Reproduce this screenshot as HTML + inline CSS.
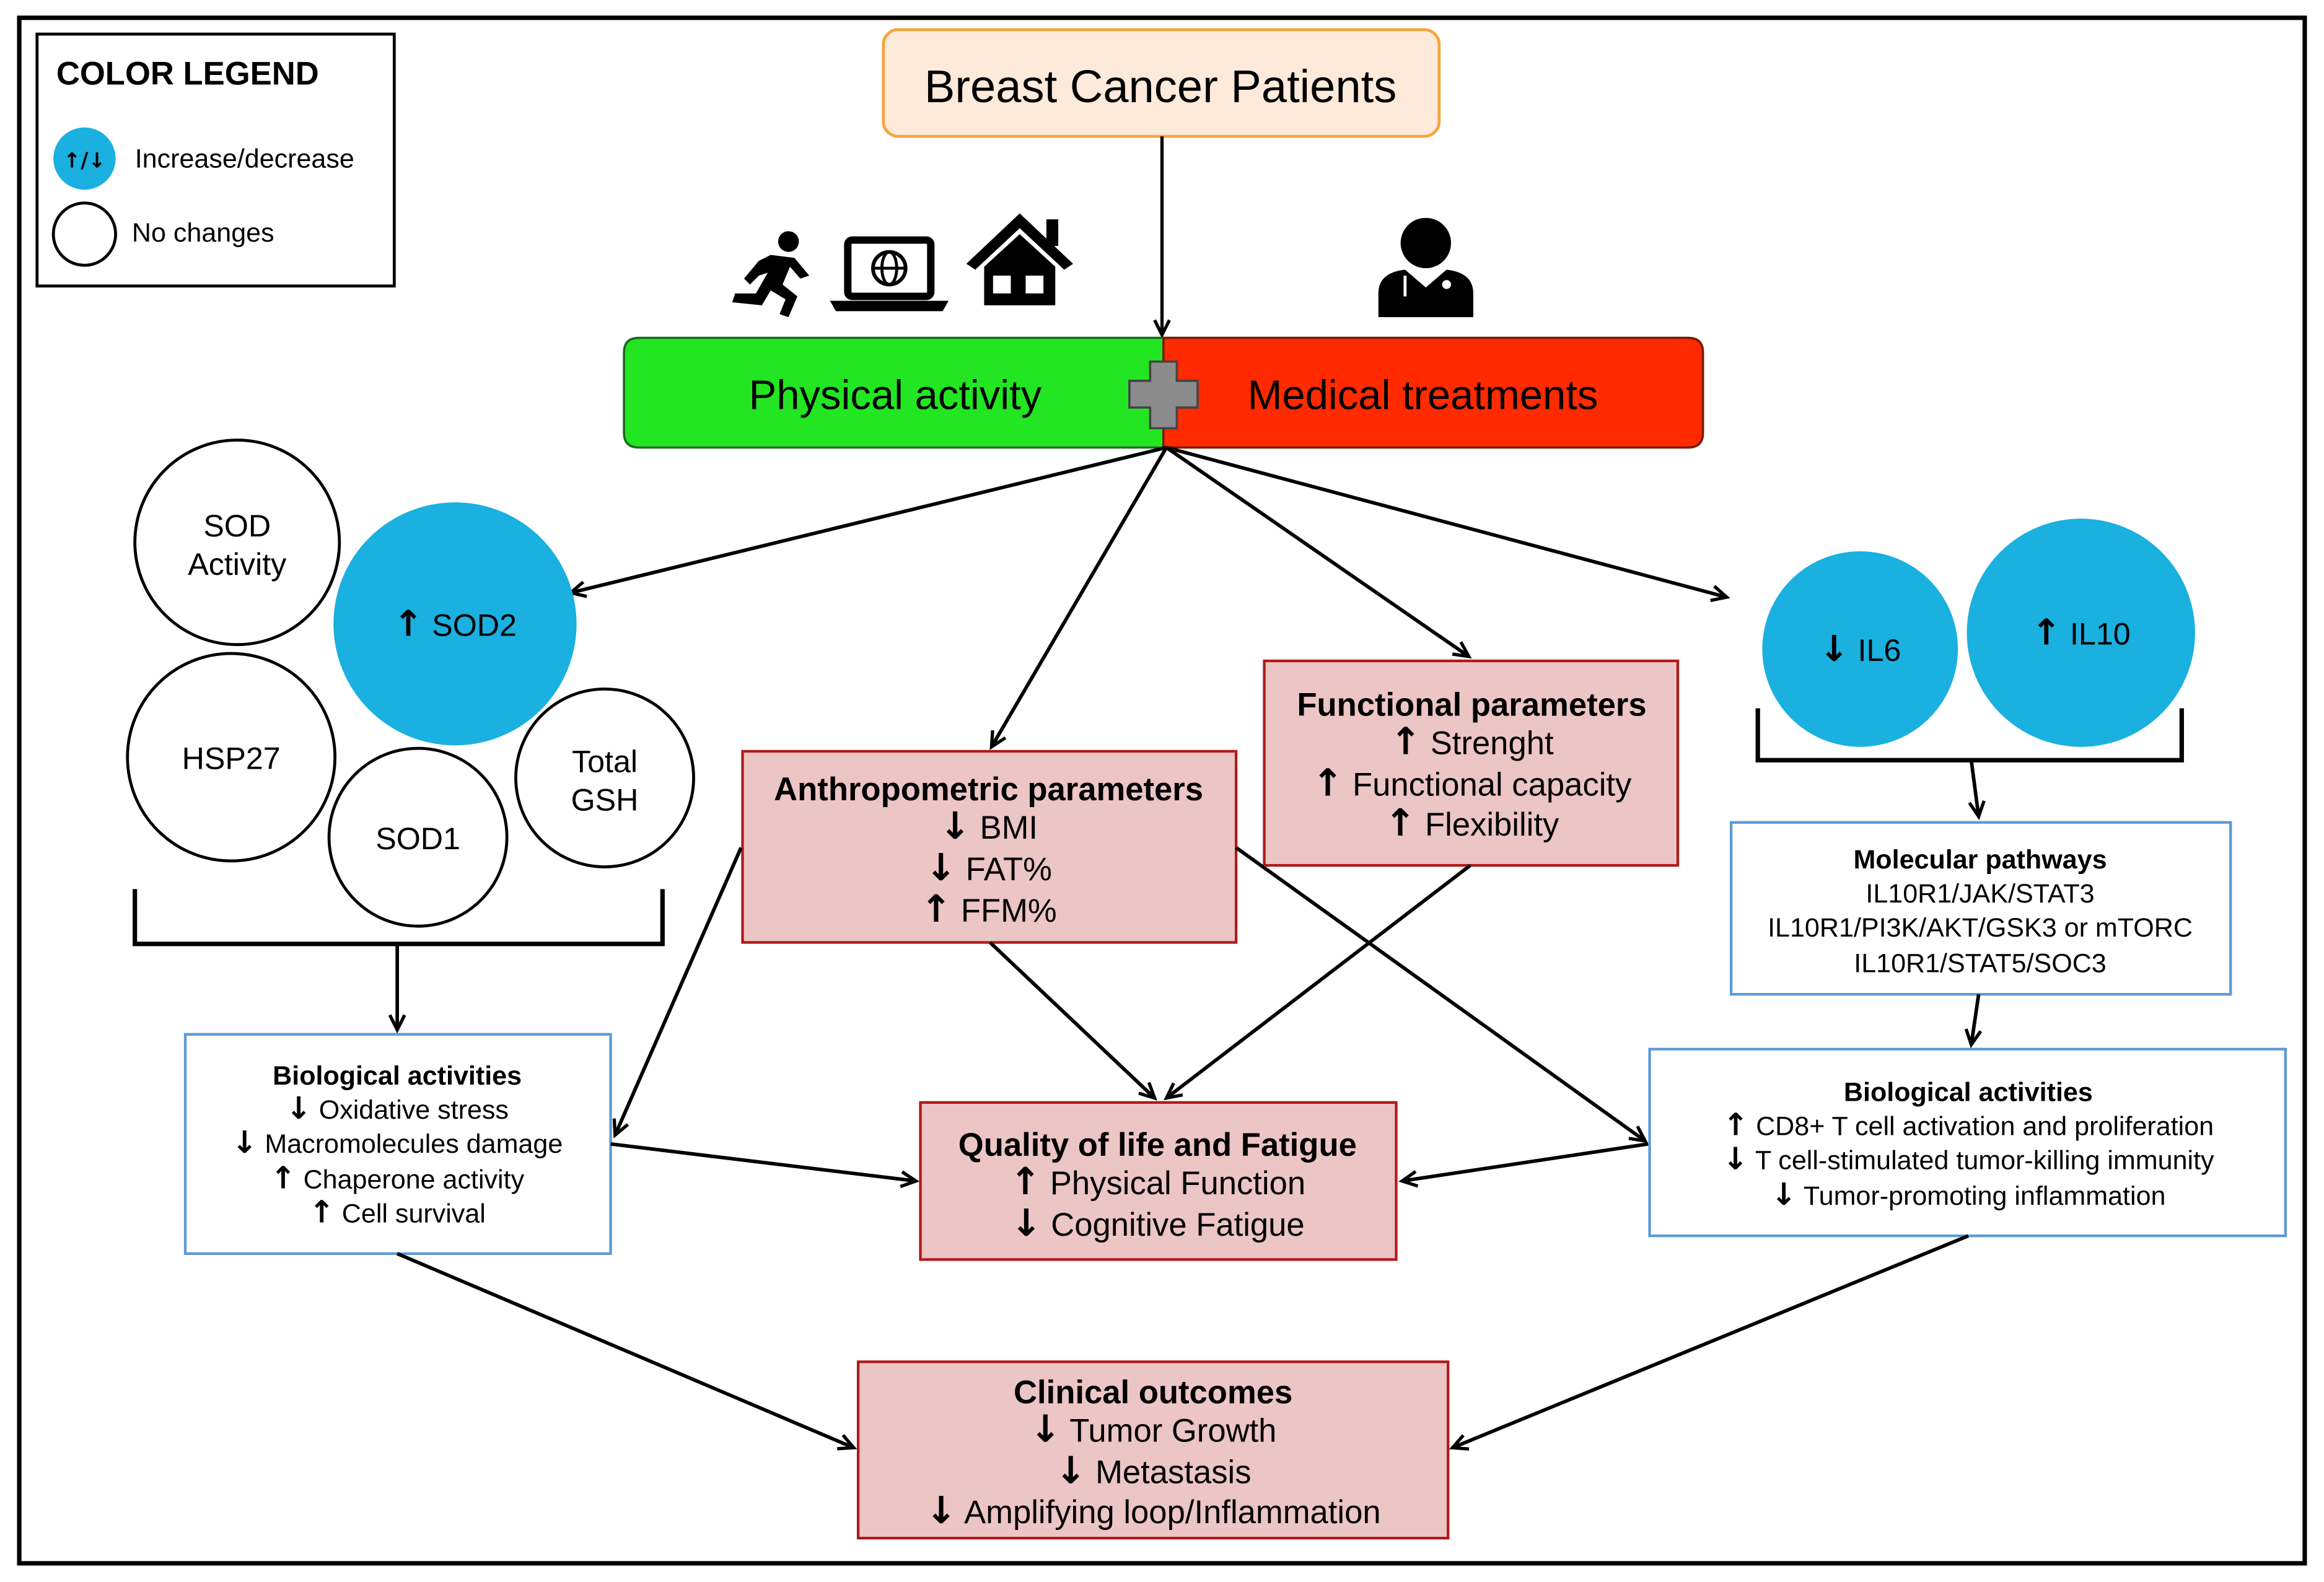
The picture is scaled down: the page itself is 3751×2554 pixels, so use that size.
<!DOCTYPE html>
<html><head><meta charset="utf-8"><style>
html,body{margin:0;padding:0;background:#fff}
svg{display:block}
text{font-family:"Liberation Sans","DejaVu Sans",sans-serif;fill:#000}
.ar{font-family:"DejaVu Sans",sans-serif;font-weight:bold;font-size:1.15em}
</style></head><body>
<svg width="3751" height="2554" viewBox="0 0 1568 1067.6" xmlns="http://www.w3.org/2000/svg">
<defs>
<marker id="a" markerWidth="16" markerHeight="16" refX="11" refY="6" orient="auto" markerUnits="userSpaceOnUse">
<polyline points="1,1 11,6 1,11" fill="none" stroke="#000" stroke-width="2.2"/>
</marker>
</defs>
<rect x="0" y="0" width="1568" height="1068" fill="#fff"/>
<rect x="13" y="12" width="1542" height="1043" fill="none" stroke="#000" stroke-width="3"/>

<!-- legend -->
<rect x="25" y="23" width="241" height="170" fill="#fff" stroke="#000" stroke-width="2"/>
<text x="38" y="57" font-size="22" font-weight="bold">COLOR LEGEND</text>
<circle cx="57" cy="107" r="21" fill="#1ab0e0"/>
<text x="57" y="113" font-size="14" text-anchor="middle" font-weight="bold" style="font-family:'DejaVu Sans',sans-serif">↑/↓</text>
<text x="91" y="113" font-size="18">Increase/decrease</text>
<circle cx="57" cy="158" r="21" fill="#fff" stroke="#000" stroke-width="2"/>
<text x="89" y="163" font-size="18">No changes</text>

<!-- top box -->
<rect x="596" y="20" width="375" height="72" rx="10" fill="#fdeada" stroke="#f4a640" stroke-width="2"/>
<text x="783" y="69" font-size="31" text-anchor="middle">Breast Cancer Patients</text>
<line x1="784" y1="92" x2="784" y2="226" stroke="#000" stroke-width="2.2" marker-end="url(#a)"/>

<!-- icons -->
<g fill="#000">
<circle cx="532" cy="163" r="7"/>
<path d="M520 172 L536 174 L546 186 L540 188 L533 180 L528 192 L538 200 L532 214 L526 212 L530 202 L520 196 L514 206 L494 204 L496 198 L510 198 L518 184 L512 186 L506 192 L502 188 L512 176 Z"/>
<rect x="572" y="162" width="56" height="38" rx="3" fill="none" stroke="#000" stroke-width="5"/>
<path d="M560 203 H640 L636 210 H564 Z"/>
<circle cx="600" cy="181" r="11" fill="none" stroke="#000" stroke-width="2.5"/>
<line x1="589" y1="181" x2="611" y2="181" stroke="#000" stroke-width="2"/>
<ellipse cx="600" cy="181" rx="5" ry="11" fill="none" stroke="#000" stroke-width="2"/>
<path d="M652 178 L688 144 L724 178 L718 182 L688 154 L658 182 Z"/>
<path d="M664 180 L688 158 L712 180 V206 H664 Z"/>
<rect x="706" y="148" width="8" height="18"/>
<rect x="670" y="186" width="12" height="12" fill="#fff"/>
<rect x="692" y="186" width="12" height="12" fill="#fff"/>
<circle cx="962" cy="164" r="17"/>
<path d="M930 214 V198 Q930 184 948 182 L962 194 L976 182 Q994 184 994 198 V214 Z"/>
<path d="M948 186 V200" stroke="#fff" stroke-width="2" fill="none"/>
<circle cx="976" cy="192" r="3" fill="#fff"/>
</g>

<!-- PA + MT -->
<path d="M431 228 H785 V302 H431 Q421 302 421 292 V238 Q421 228 431 228 Z" fill="#22e622" stroke="#1a6a1a" stroke-width="1.5"/>
<path d="M785 228 H1139 Q1149 228 1149 238 V292 Q1149 302 1139 302 H785 Z" fill="#ff2a00" stroke="#7a1a00" stroke-width="1.5"/>
<text x="604" y="276" font-size="28" text-anchor="middle">Physical activity</text>
<text x="960" y="276" font-size="28" text-anchor="middle">Medical treatments</text>
<path d="M776 244 H794 V257 H808 V275 H794 V289 H776 V275 H762 V257 H776 Z" fill="#8c8c8c" stroke="#444" stroke-width="1.5"/>

<g stroke="#000" stroke-width="2.4" fill="none">
<line x1="787" y1="302" x2="385" y2="400" marker-end="url(#a)"/>
<line x1="787" y1="302" x2="669" y2="504" marker-end="url(#a)"/>
<line x1="787" y1="302" x2="991" y2="443" marker-end="url(#a)"/>
<line x1="787" y1="302" x2="1165" y2="403" marker-end="url(#a)"/>
</g>

<!-- circles left -->
<g stroke="#000" stroke-width="2">
<circle cx="160" cy="366" r="69" fill="#fff"/>
<circle cx="156" cy="511" r="70" fill="#fff"/>
<circle cx="282" cy="565" r="60" fill="#fff"/>
<circle cx="408" cy="525" r="60" fill="#fff"/>
</g>
<circle cx="307" cy="421" r="82" fill="#1ab0e0"/>
<g font-size="21" text-anchor="middle">
<text x="160" y="362">SOD</text><text x="160" y="388">Activity</text>
<text x="156" y="519">HSP27</text>
<text x="282" y="573">SOD1</text>
<text x="408" y="521">Total</text><text x="408" y="547">GSH</text>
<text x="307" y="429"><tspan class="ar">↑</tspan> SOD2</text>
</g>
<path d="M91 600 V637 H447 V600" fill="none" stroke="#000" stroke-width="3"/>
<line x1="268" y1="637" x2="268" y2="695" stroke="#000" stroke-width="2.4" marker-end="url(#a)"/>

<!-- IL circles -->
<circle cx="1255" cy="438" r="66" fill="#1ab0e0"/>
<circle cx="1404" cy="427" r="77" fill="#1ab0e0"/>
<text x="1255" y="446" font-size="21" text-anchor="middle"><tspan class="ar">↓</tspan> IL6</text>
<text x="1404" y="435" font-size="21" text-anchor="middle"><tspan class="ar">↑</tspan> IL10</text>
<path d="M1186 478 V513 H1472 V478" fill="none" stroke="#000" stroke-width="3"/>
<line x1="1330" y1="513" x2="1335" y2="551" stroke="#000" stroke-width="2.4" marker-end="url(#a)"/>

<!-- boxes -->
<rect x="125" y="698" width="287" height="148" fill="#fff" stroke="#5b9bd5" stroke-width="1.8"/>
<g font-size="18" text-anchor="middle">
<text x="268" y="732" font-weight="bold">Biological activities</text>
<text x="268" y="755"><tspan class="ar">↓</tspan> Oxidative stress</text>
<text x="268" y="778"><tspan class="ar">↓</tspan> Macromolecules damage</text>
<text x="268" y="802"><tspan class="ar">↑</tspan> Chaperone activity</text>
<text x="268" y="825"><tspan class="ar">↑</tspan> Cell survival</text>
</g>

<rect x="1168" y="555" width="337" height="116" fill="#fff" stroke="#5b9bd5" stroke-width="1.8"/>
<g font-size="18" text-anchor="middle">
<text x="1336" y="586" font-weight="bold">Molecular pathways</text>
<text x="1336" y="609">IL10R1/JAK/STAT3</text>
<text x="1336" y="632">IL10R1/PI3K/AKT/GSK3 or mTORC</text>
<text x="1336" y="656">IL10R1/STAT5/SOC3</text>
</g>
<line x1="1335" y1="671" x2="1330" y2="705" stroke="#000" stroke-width="2.4" marker-end="url(#a)"/>

<rect x="1113" y="708" width="429" height="126" fill="#fff" stroke="#5b9bd5" stroke-width="1.8"/>
<g font-size="18" text-anchor="middle">
<text x="1328" y="743" font-weight="bold">Biological activities</text>
<text x="1328" y="766"><tspan class="ar">↑</tspan> CD8+ T cell activation and proliferation</text>
<text x="1328" y="789"><tspan class="ar">↓</tspan> T cell-stimulated tumor-killing immunity</text>
<text x="1328" y="813"><tspan class="ar">↓</tspan> Tumor-promoting inflammation</text>
</g>

<g fill="#ecc5c5" stroke="#b01a1a" stroke-width="1.8">
<rect x="501" y="507" width="333" height="129"/>
<rect x="853" y="446" width="279" height="138"/>
<rect x="621" y="744" width="321" height="106"/>
<rect x="579" y="919" width="398" height="119"/>
</g>
<g font-size="22" text-anchor="middle">
<text x="667" y="540" font-weight="bold">Anthropometric parameters</text>
<text x="667" y="566"><tspan class="ar">↓</tspan> BMI</text>
<text x="667" y="594"><tspan class="ar">↓</tspan> FAT%</text>
<text x="667" y="622"><tspan class="ar">↑</tspan> FFM%</text>
<text x="993" y="483" font-weight="bold">Functional parameters</text>
<text x="993" y="509"><tspan class="ar">↑</tspan> Strenght</text>
<text x="993" y="537"><tspan class="ar">↑</tspan> Functional capacity</text>
<text x="993" y="564"><tspan class="ar">↑</tspan> Flexibility</text>
<text x="781" y="780" font-weight="bold">Quality of life and Fatigue</text>
<text x="781" y="806"><tspan class="ar">↑</tspan> Physical Function</text>
<text x="781" y="834"><tspan class="ar">↓</tspan> Cognitive Fatigue</text>
<text x="778" y="947" font-weight="bold">Clinical outcomes</text>
<text x="778" y="973"><tspan class="ar">↓</tspan> Tumor Growth</text>
<text x="778" y="1001"><tspan class="ar">↓</tspan> Metastasis</text>
<text x="778" y="1028"><tspan class="ar">↓</tspan> Amplifying loop/Inflammation</text>
</g>

<g stroke="#000" stroke-width="2.4" fill="none">
<line x1="500" y1="572" x2="415" y2="766" marker-end="url(#a)"/>
<line x1="412" y1="772" x2="618" y2="797" marker-end="url(#a)"/>
<line x1="668" y1="636" x2="779" y2="741" marker-end="url(#a)"/>
<line x1="992" y1="584" x2="787" y2="741" marker-end="url(#a)"/>
<line x1="834" y1="572" x2="1110" y2="770" marker-end="url(#a)"/>
<line x1="1112" y1="772" x2="946" y2="797" marker-end="url(#a)"/>
<line x1="268" y1="846" x2="576" y2="977" marker-end="url(#a)"/>
<line x1="1328" y1="834" x2="980" y2="977" marker-end="url(#a)"/>
</g>
</svg>
</body></html>
